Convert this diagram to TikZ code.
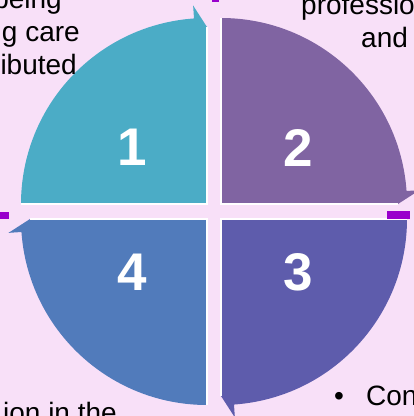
\documentclass[tikz,border=0pt]{standalone}
\usepackage{fontspec}
\setmainfont{Liberation Sans}

\definecolor{bgpink}{RGB}{248,224,248}
\definecolor{quadteal}{RGB}{75,172,198}
\definecolor{quadplum}{RGB}{128,100,162}
\definecolor{quadindigo}{RGB}{94,92,172}
\definecolor{quadblue}{RGB}{81,123,187}
\definecolor{handle}{RGB}{153,0,204}

\begin{document}
\begin{tikzpicture}[
      x=1pt, y=1pt,
      every node/.style={font=\fontsize{28}{33}\selectfont, inner sep=0pt},
      quadedge/.style={draw=white, line width=1.5pt},
      numlabel/.style={text=white, font=\fontsize{53}{60}\selectfont\bfseries},
      handlebox/.style={fill=handle},
    ]
    \fill[bgpink] (0,0) rectangle (414,416);
    \useasboundingbox (0,0) rectangle (414,416);

    % four quarter discs, each ending in an arrow head (clockwise)
    \fill[quadteal, shift={(207,212)}] (0,0) -- (180:186) arc[start angle=180, end angle=94, radius=186] -- (94:199) -- (90:177) -- cycle;
    \fill[quadplum, shift={(221,212)}] (0,0) -- (90:186) arc[start angle=90, end angle=4, radius=186] -- (4:199) -- (0:177) -- cycle;
    \fill[quadindigo, shift={(221,197)}] (0,0) -- (0:186) arc[start angle=0, end angle=-86, radius=186] -- (-86:199) -- (-90:177) -- cycle;
    \fill[quadblue, shift={(207,197)}] (0,0) -- (-90:186) arc[start angle=270, end angle=184, radius=186] -- (184:199) -- (180:177) -- cycle;

    % white rims along the straight sides
    \draw[quadedge, shift={(207,212)}] (90:177) -- (0,0) -- (180:186);
    \draw[quadedge, shift={(221,212)}] (90:186) -- (0,0) -- (0:177);
    \draw[quadedge, shift={(221,197)}] (0:186) -- (0,0) -- (-90:177);
    \draw[quadedge, shift={(207,197)}] (-90:186) -- (0,0) -- (180:177);

    \node[numlabel] (one) at (132,269) {1};
    \node[numlabel] (two) at (298,268) {2};
    \node[numlabel] (three) at (298,144) {3};
    \node[numlabel] (four) at (132,144) {4};

    % text around the cycle
    \node[anchor=base east] (being) at (62,407) {being};
    \node[anchor=base east] (care) at (80,374) {g care};
    \node[anchor=base east] (buted) at (77,341) {ibuted};
    \node[anchor=base west] (prof) at (301,401) {profession};
    \node[anchor=base west] (and) at (361,368) {and};
    \node[anchor=base east] (inthe) at (117,-6) {ion in the};
    \node[anchor=base] (bullet) at (339,11) {\textbullet};
    \node[anchor=base west] (con) at (366,11) {Con};

    % small handles
    \fill[handlebox] (212,414) rectangle (219,416);
    \fill[handlebox] (0,197) rectangle (9,204);
    \fill[handlebox] (387,197) rectangle (410,205);
  \end{tikzpicture}
\end{document}
